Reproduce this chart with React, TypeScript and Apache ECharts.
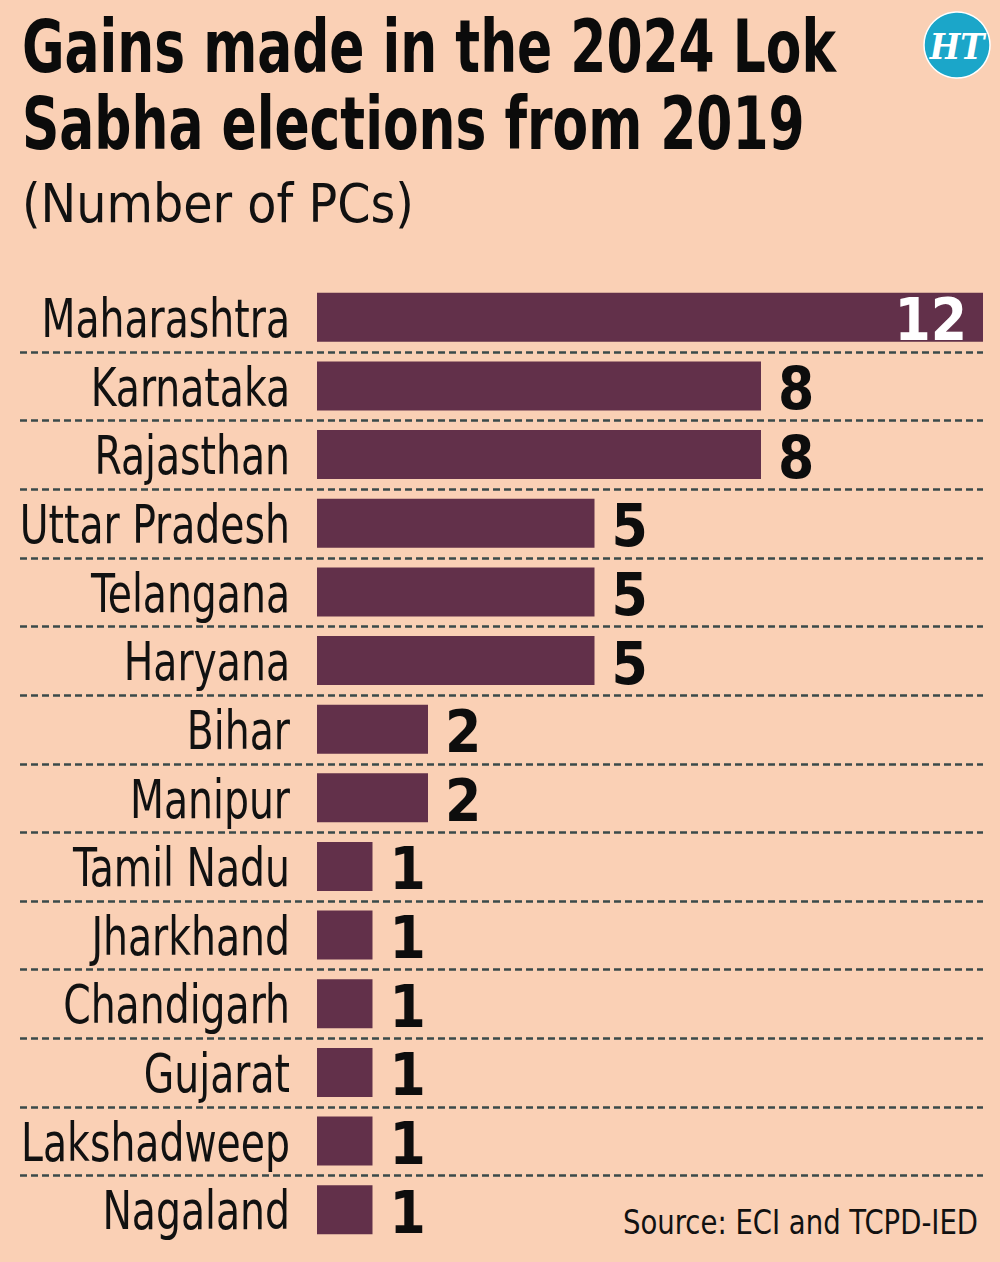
import React, { useEffect, useRef } from "react";
import * as echarts from "echarts";

const states = [
  "Maharashtra",
  "Karnataka",
  "Rajasthan",
  "Uttar Pradesh",
  "Telangana",
  "Haryana",
  "Bihar",
  "Manipur",
  "Tamil Nadu",
  "Jharkhand",
  "Chandigarh",
  "Gujarat",
  "Lakshadweep",
  "Nagaland",
];
const gains = [12, 8, 8, 5, 5, 5, 2, 2, 1, 1, 1, 1, 1, 1];
const titleLines = ["Gains made in the 2024 Lok", "Sabha elections from 2019"];
const subtitle = "(Number of PCs)";
const source = "Source: ECI and TCPD-IED";
const axisMax = 12;

const FONT =
  "'DejaVu Sans Condensed', 'Liberation Sans Narrow', 'Roboto Condensed', sans-serif";
const BG = "#fad0b5";
const BAR = "#62304a";

export default function App() {
  const ref = useRef<HTMLDivElement>(null);
  useEffect(() => {
    document.body.style.margin = "0";
    document.body.style.background = BG;
    const chart = echarts.init(ref.current!, null, { renderer: "svg" });
    const data = gains.map((v) => {
      const inside = v === axisMax;
      return {
        value: v,
        label: inside
          ? { position: "insideRight", distance: 16, color: "#ffffff" }
          : { position: "right", distance: 17, color: "#0d0d0d" },
      };
    });
    chart.setOption({
      animation: false,
      backgroundColor: BG,
      grid: {
        left: 317,
        right: 17,
        top: 283,
        bottom: 18,
        containLabel: false,
        outerBoundsMode: "none",
      },
      xAxis: {
        type: "value",
        min: 0,
        max: axisMax,
        show: false,
      },
      yAxis: {
        type: "category",
        data: states,
        inverse: true,
        axisLine: { show: false },
        axisTick: { show: false },
        splitLine: { show: false },
        axisLabel: { show: false },
      },
      series: [
        {
          type: "bar",
          data,
          barWidth: 49,
          itemStyle: { color: BAR },
          label: {
            show: true,
            fontSize: 58,
            fontWeight: "bold",
            fontFamily: FONT,
            offset: [0, 3],
          },
        },
      ],
    });

    const ys = states.map((s) => chart.convertToPixel({ yAxisIndex: 0 }, s) as number);
    const x0 = chart.convertToPixel({ xAxisIndex: 0 }, 0) as number;
    const xEnd = chart.convertToPixel({ xAxisIndex: 0 }, axisMax) as number;
    const seps: any[] = [];
    for (let i = 0; i < ys.length - 1; i++) {
      const y = Math.round((ys[i] + ys[i + 1]) / 2) + 0.5;
      seps.push({
        type: "line",
        shape: { x1: 20, y1: y, x2: xEnd, y2: y },
        style: { stroke: "#3b4a4a", lineWidth: 2.5, lineDash: [7, 4] },
        silent: true,
      });
    }
    const catLabels = states.map((s, i) => ({
      type: "text",
      x: x0 - 27,
      y: ys[i] + 1,
      scaleX: 0.81,
      style: {
        text: s,
        fontSize: 54,
        fontFamily: FONT,
        fill: "#111111",
        align: "right",
        verticalAlign: "middle",
      },
    }));
    chart.setOption({
      graphic: [
        {
          type: "text",
          x: 22,
          y: 47,
          scaleX: 0.79,
          style: {
            text: titleLines[0],
            fontSize: 73,
            fontWeight: "bold",
            fontFamily: FONT,
            fill: "#0b0b0b",
            verticalAlign: "middle",
          },
        },
        {
          type: "text",
          x: 22,
          y: 124,
          scaleX: 0.79,
          style: {
            text: titleLines[1],
            fontSize: 73,
            fontWeight: "bold",
            fontFamily: FONT,
            fill: "#0b0b0b",
            verticalAlign: "middle",
          },
        },
        {
          type: "text",
          x: 22,
          y: 203,
          style: {
            text: subtitle,
            fontSize: 53,
            fontFamily: FONT,
            fill: "#111111",
            verticalAlign: "middle",
          },
        },
        {
          type: "text",
          x: 978,
          y: 1222,
          scaleX: 0.9,
          style: {
            text: source,
            fontSize: 34,
            fontFamily: FONT,
            fill: "#111111",
            align: "right",
            verticalAlign: "middle",
          },
        },
        {
          type: "circle",
          shape: { cx: 957, cy: 45, r: 33 },
          style: { fill: "#1ba6c9", stroke: "#ffffff", lineWidth: 1.5 },
        },
        {
          type: "text",
          x: 957,
          y: 46,
          scaleX: 0.9,
          style: {
            text: "HT",
            fontSize: 36,
            fontWeight: "bold",
            fontStyle: "italic",
            fontFamily: "'DejaVu Serif', 'Liberation Serif', serif",
            fill: "#ffffff",
            align: "center",
            verticalAlign: "middle",
          },
        },
        ...catLabels,
        ...seps,
      ],
    });
    return () => chart.dispose();
  }, []);
  return <div ref={ref} style={{ width: 1000, height: 1262 }} />;
}
